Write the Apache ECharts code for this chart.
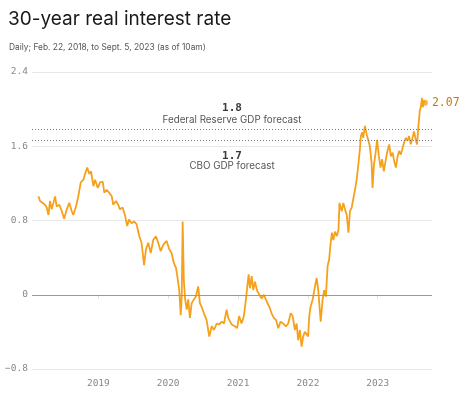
<!DOCTYPE html>
<html>
<head>
<meta charset="utf-8">
<script src="https://cdn.jsdelivr.net/npm/echarts@6/dist/echarts.min.js"></script>
<style>
  html, body { margin: 0; padding: 0; background: #fff; }
  #chart { width: 474px; height: 396px; }
</style>
</head>
<body>
<div id="chart"></div>
<script>
// daily 30-year TIPS yield, sampled off the chart
const dates = [
  '2018-02-22', '2018-03-02', '2018-03-11', '2018-03-28', '2018-04-06', '2018-04-15', '2018-04-23', '2018-05-02',
  '2018-05-20', '2018-05-28', '2018-06-11', '2018-06-24', '2018-07-06', '2018-07-20', '2018-08-02', '2018-08-15',
  '2018-08-23', '2018-09-06', '2018-09-18', '2018-10-01', '2018-10-15', '2018-10-23', '2018-11-04', '2018-11-15',
  '2018-11-24', '2018-12-06', '2018-12-15', '2018-12-29', '2019-01-10', '2019-01-24', '2019-02-01', '2019-02-13',
  '2019-02-27', '2019-03-12', '2019-03-20', '2019-04-03', '2019-04-15', '2019-04-24', '2019-05-08', '2019-05-20',
  '2019-06-01', '2019-06-10', '2019-06-24', '2019-07-06', '2019-07-20', '2019-07-29', '2019-08-03', '2019-08-15',
  '2019-08-28', '2019-09-07', '2019-09-19', '2019-10-02', '2019-10-15', '2019-10-29', '2019-11-10', '2019-11-23',
  '2019-12-07', '2019-12-24', '2020-01-07', '2020-01-19', '2020-01-31', '2020-02-11', '2020-02-18', '2020-02-28',
  '2020-03-07', '2020-03-12', '2020-03-17', '2020-03-23', '2020-03-30', '2020-04-07', '2020-04-15', '2020-04-24',
  '2020-05-03', '2020-05-15', '2020-05-25', '2020-06-06', '2020-06-15', '2020-06-24', '2020-07-06', '2020-07-20',
  '2020-08-03', '2020-08-16', '2020-08-28', '2020-09-11', '2020-09-24', '2020-10-07', '2020-10-19', '2020-11-02',
  '2020-11-10', '2020-11-28', '2020-12-15', '2020-12-27', '2021-01-06', '2021-01-19', '2021-01-31', '2021-02-11',
  '2021-02-18', '2021-02-25', '2021-03-04', '2021-03-13', '2021-03-21', '2021-03-30', '2021-04-11', '2021-04-22',
  '2021-05-04', '2021-05-16', '2021-05-30', '2021-06-13', '2021-06-25', '2021-07-07', '2021-07-18', '2021-07-30',
  '2021-08-11', '2021-08-25', '2021-09-08', '2021-09-20', '2021-10-03', '2021-10-13', '2021-10-25', '2021-11-03',
  '2021-11-11', '2021-11-20', '2021-11-29', '2021-12-07', '2021-12-16', '2021-12-25', '2022-01-02', '2022-01-08',
  '2022-01-15', '2022-01-26', '2022-02-07', '2022-02-16', '2022-02-24', '2022-03-09', '2022-03-19', '2022-03-27',
  '2022-04-05', '2022-04-14', '2022-04-22', '2022-04-30', '2022-05-07', '2022-05-14', '2022-05-23', '2022-06-01',
  '2022-06-10', '2022-06-15', '2022-06-18', '2022-06-27', '2022-07-05', '2022-07-14', '2022-07-23', '2022-08-01',
  '2022-08-09', '2022-08-18', '2022-08-26', '2022-09-04', '2022-09-13', '2022-09-21', '2022-09-30', '2022-10-05',
  '2022-10-12', '2022-10-17', '2022-10-26', '2022-11-04', '2022-11-12', '2022-11-21', '2022-11-30', '2022-12-05',
  '2022-12-12', '2022-12-21', '2022-12-29', '2023-01-07', '2023-01-16', '2023-01-24', '2023-02-02', '2023-02-11',
  '2023-02-19', '2023-03-02', '2023-03-11', '2023-03-20', '2023-03-28', '2023-04-06', '2023-04-15', '2023-04-23',
  '2023-05-02', '2023-05-11', '2023-05-19', '2023-05-28', '2023-06-06', '2023-06-14', '2023-06-23', '2023-07-02',
  '2023-07-10', '2023-07-19', '2023-07-26', '2023-08-02', '2023-08-09', '2023-08-15', '2023-08-21', '2023-08-25',
  '2023-08-30', '2023-09-05'
];
const rates = [
  1.06, 1.01, 1.03, 0.97, 0.94, 0.86, 1.01, 0.92,
  1.06, 0.95, 0.97, 0.90, 0.82, 0.92, 0.99, 0.90,
  0.86, 0.95, 1.06, 1.21, 1.24, 1.30, 1.37, 1.30,
  1.33, 1.17, 1.24, 1.15, 1.21, 1.22, 1.10, 1.13,
  1.10, 1.06, 0.97, 1.01, 0.97, 0.92, 0.94, 0.86,
  0.74, 0.81, 0.77, 0.79, 0.76, 0.74, 0.63, 0.56,
  0.32, 0.49, 0.56, 0.45, 0.59, 0.63, 0.56, 0.47,
  0.54, 0.58, 0.49, 0.45, 0.34, 0.29, 0.20, 0.05,
  -0.22, -0.02, 0.79, 0.16, -0.05, -0.16, -0.05, -0.25,
  -0.09, -0.05, -0.02, 0.09, -0.09, -0.13, -0.20, -0.27,
  -0.45, -0.34, -0.38, -0.31, -0.32, -0.29, -0.31, -0.16,
  -0.25, -0.32, -0.34, -0.36, -0.23, -0.31, -0.23, -0.05,
  0.09, 0.22, 0.07, 0.20, 0.05, 0.14, 0.04, 0.00,
  -0.04, 0.00, -0.07, -0.13, -0.20, -0.25, -0.27, -0.36,
  -0.29, -0.31, -0.34, -0.31, -0.20, -0.23, -0.38, -0.31,
  -0.49, -0.38, -0.56, -0.45, -0.40, -0.41, -0.45, -0.23,
  -0.13, -0.05, 0.09, 0.18, 0.05, -0.29, -0.05, 0.05,
  -0.02, 0.31, 0.38, 0.56, 0.67, 0.59, 0.68, 0.63,
  0.70, 0.99, 1.01, 0.90, 0.99, 0.92, 0.86, 0.67,
  0.90, 0.94, 1.03, 1.13, 1.24, 1.39, 1.57, 1.71,
  1.75, 1.69, 1.82, 1.73, 1.67, 1.60, 1.42, 1.15,
  1.39, 1.53, 1.67, 1.49, 1.37, 1.46, 1.33, 1.44,
  1.53, 1.62, 1.49, 1.53, 1.44, 1.37, 1.49, 1.55,
  1.51, 1.58, 1.64, 1.69, 1.66, 1.71, 1.62, 1.69,
  1.76, 1.67, 1.62, 1.82, 1.98, 2.03, 2.12, 2.02,
  2.09, 2.07
];
const forecastNames = ['Federal Reserve GDP forecast', 'CBO GDP forecast'];
const forecastValues = [1.78, 1.66];

const mono = '"DejaVu Sans Mono", "Liberation Mono", monospace';
const sans = 'Inter, "Noto Sans", sans-serif';
const orange = '#f6a11c';
const last = rates.length - 1;
const YEAR = 365 * 24 * 3600 * 1000;

const chart = echarts.init(document.getElementById('chart'));

const forecastLabel = (i, pos, dist, lh) => ({
  show: true,
  position: pos,
  distance: dist,
  align: 'center',
  formatter: '{v|' + forecastValues[i].toFixed(1) + '}\n{t|' + forecastNames[i] + '}',
  rich: {
    v: { fontFamily: mono, fontSize: 11, fontWeight: 'bold', color: '#3a3a3a', lineHeight: lh, align: 'center' },
    t: { fontFamily: sans, fontSize: 9.8, color: '#555', lineHeight: lh, align: 'center' }
  }
});

chart.setOption({
  animation: false,
  title: [
    {
      text: '30-year real interest rate',
      left: 3, top: 5,
      textStyle: { fontFamily: sans, fontSize: 19, fontWeight: 'normal', color: '#1a1a1a' }
    },
    {
      text: 'Daily; Feb. 22, 2018, to Sept. 5, 2023 (as of 10am)',
      left: 4, top: 38,
      textStyle: { fontFamily: sans, fontSize: 8.4, fontWeight: 'normal', color: '#555' }
    }
  ],
  grid: { left: 32, right: 42, top: 72, bottom: 27 },
  xAxis: {
    type: 'time',
    min: '2018-01-19',
    max: '2023-10-12',
    minInterval: YEAR,
    maxInterval: YEAR * 1.01,
    axisLine: { show: false },
    axisTick: { show: true, length: 4, lineStyle: { color: '#ddd' } },
    axisLabel: {
      formatter: '{yyyy}',
      fontFamily: mono, fontSize: 9.5, color: '#888', margin: 10
    },
    splitLine: { show: false }
  },
  yAxis: {
    type: 'value',
    min: -0.8, max: 2.4, interval: 0.8,
    axisLine: { show: false },
    axisTick: { show: false },
    axisLabel: {
      formatter: v => v === 0 ? '0' : (v < 0 ? '\u2212' : '') + Math.abs(v).toFixed(1),
      fontFamily: mono, fontSize: 9.5, color: '#888', margin: 4
    },
    splitLine: { lineStyle: { color: '#e8e8e8', width: 1 } }
  },
  series: [
    {
      type: 'line',
      data: [],
      z: 1,
      markLine: {
        silent: true,
        symbol: 'none',
        animation: false,
        data: [
          { yAxis: 0, lineStyle: { color: '#999', type: 'solid', width: 1 }, label: { show: false } },
          { yAxis: forecastValues[0], lineStyle: { color: '#777', type: [1, 2], width: 1 }, label: forecastLabel(0, 'insideMiddleTop', 3, 12.5) },
          { yAxis: forecastValues[1], lineStyle: { color: '#777', type: [1, 2], width: 1 }, label: forecastLabel(1, 'insideMiddleBottom', 11, 9.5) }
        ]
      }
    },
    {
      type: 'line',
      data: dates.map((d, i) => [d, rates[i]]),
      showSymbol: false,
      z: 3,
      lineStyle: { color: orange, width: 1.8 },
      endLabel: {
        show: true,
        formatter: () => rates[last].toFixed(2),
        fontFamily: mono, fontSize: 11.5, color: '#c27c17', distance: 7
      }
    },
    {
      type: 'scatter',
      data: [[dates[last], rates[last]]],
      symbolSize: 6,
      z: 4,
      itemStyle: { color: orange }
    }
  ]
});
</script>
</body>
</html>
